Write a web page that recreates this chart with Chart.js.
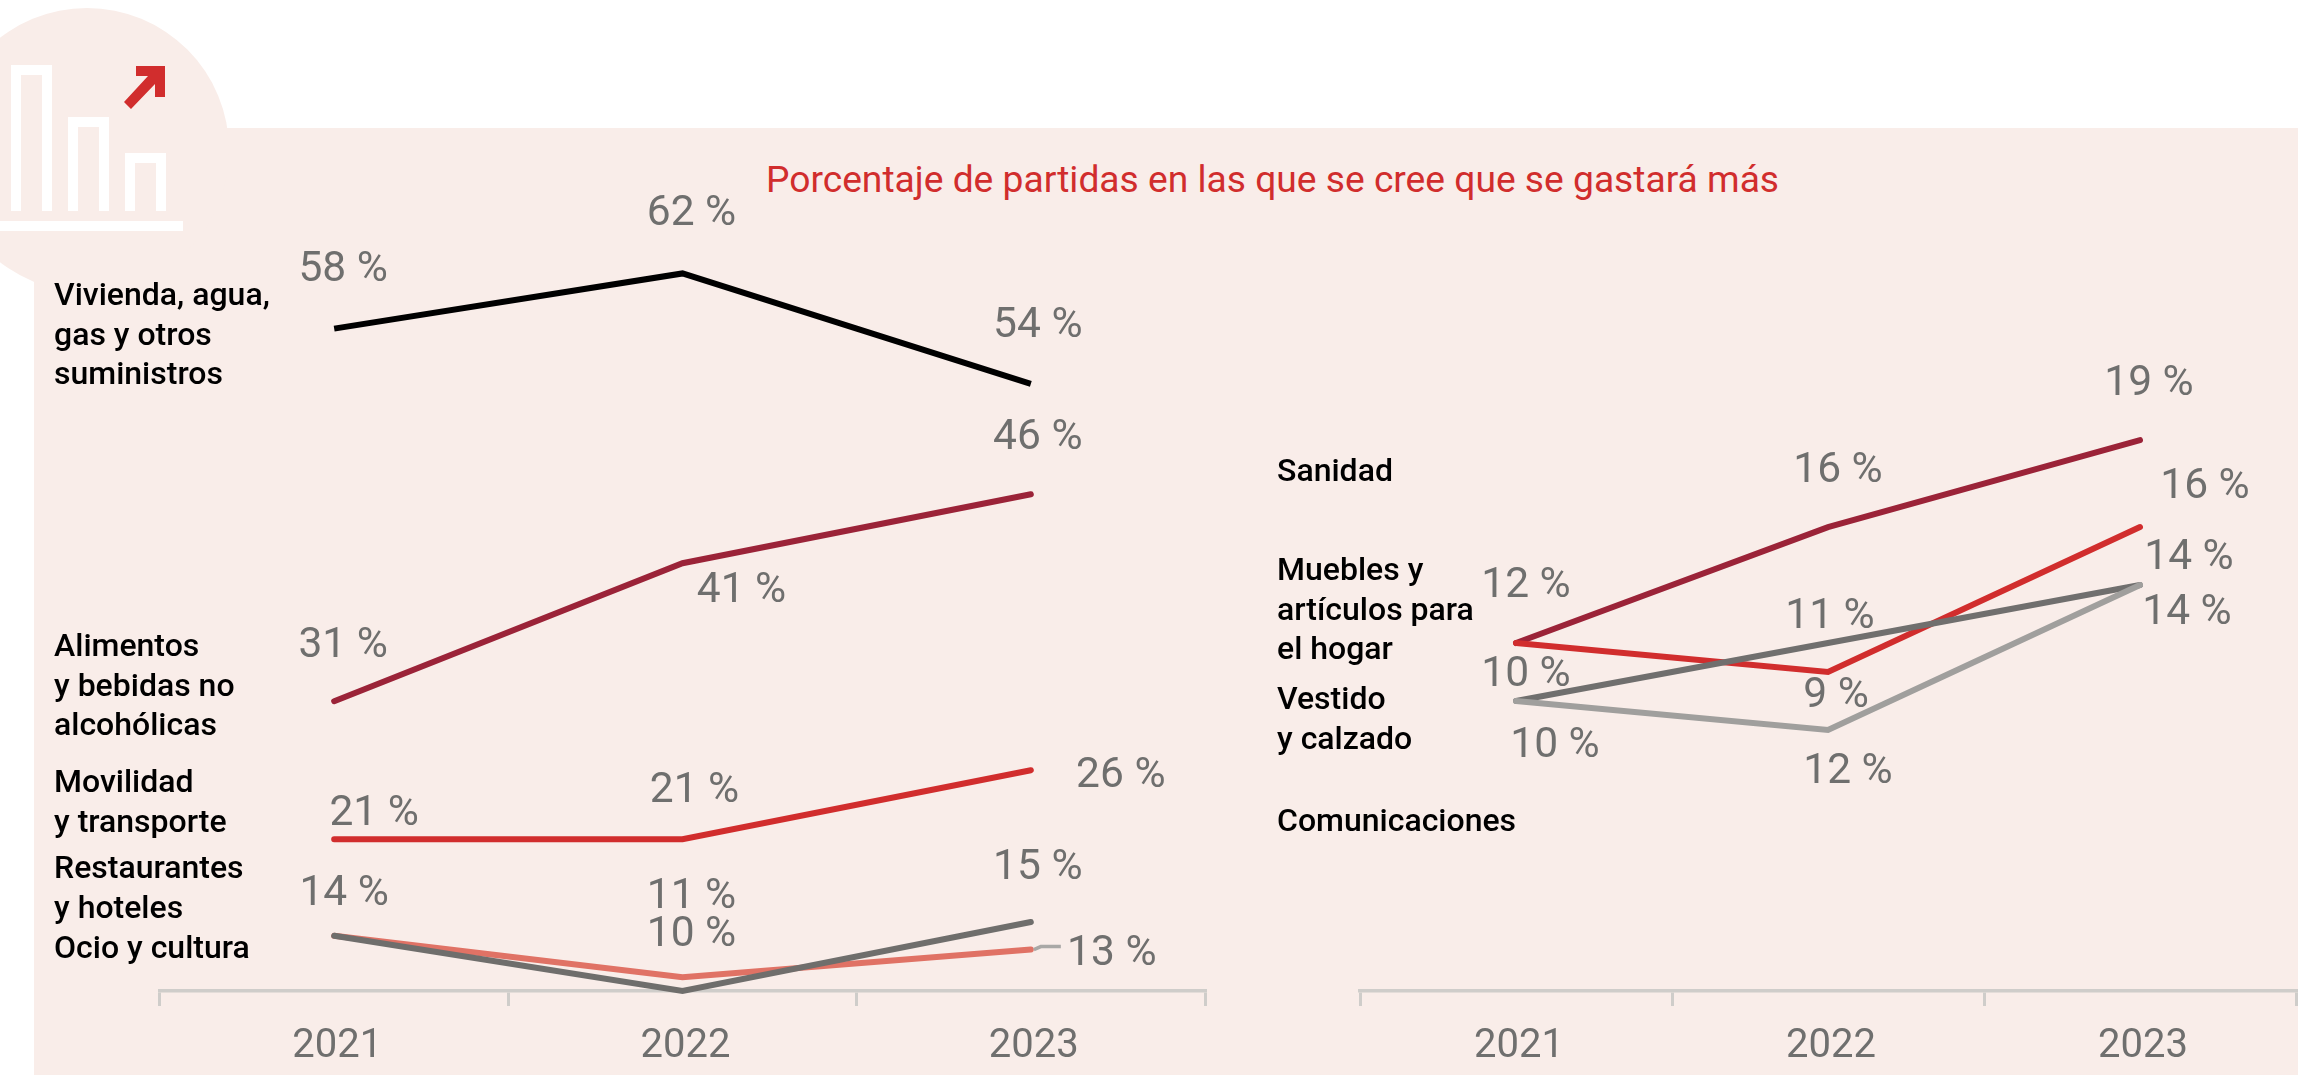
<!DOCTYPE html>
<html lang="es">
<head>
<meta charset="utf-8">
<title>Porcentaje de partidas</title>
<script src="https://cdn.jsdelivr.net/npm/chart.js@4"></script>
<style>
html, body { margin: 0; padding: 0; background: #fff; }
#page { position: relative; width: 2298px; height: 1078px; overflow: hidden; font-family: Roboto, sans-serif; }
#panel { position: absolute; left: 34px; top: 128px; width: 2264px; height: 947px; background: #f9ede9; }
#circle { position: absolute; left: -55px; top: 8px; width: 284px; height: 284px; border-radius: 50%; background: #f9ede9; }
#icon { position: absolute; left: 0; top: 0; }
canvas { position: absolute; left: 0; top: 0; }
#title { position: absolute; left: 766px; top: 156px; font-size: 37.2px; line-height: 46px; color: #d12d2d; white-space: nowrap; }
.name { position: absolute; font-size: 32px; line-height: 39.6px; font-weight: 500; color: #000; white-space: pre; }
</style>
</head>
<body>
<div id="page">
    <div id="panel"></div>
    <div id="circle"></div>
    <svg id="icon" width="240" height="240">
        <path d="M16 211V70H47V211M73 211V122H104V211M130 211V158H161V211" fill="none" stroke="#fff" stroke-width="10"/>
        <rect x="0" y="221" width="183" height="10" fill="#fff"/>
        <path d="M136 66H165V97H155V84L131 109L124 102L148 76H136Z" fill="#d12d2d"/>
    </svg>
    <div id="title">Porcentaje de partidas en las que se cree que se gastará más</div>
    <canvas id="chartLeft" width="2298" height="1078"></canvas>
    <canvas id="chartRight" width="2298" height="1078"></canvas>
</div>
<script>
const years = ['2021', '2022', '2023'];

const vivienda = [58, 62, 54];
const alimentos = [31, 41, 46];
const movilidad = [21, 21, 26];
const restaurantes = [14, 11, 13];
const ocio = [14, 10, 15];

const sanidad = [12, 16, 19];
const muebles = [12, 11, 16];
const vestido = [10, 12, 14];
const comunicaciones = [10, 9, 14];

// series names, first line centre in page px
const namesLeft = [
    [54, 295, 'Vivienda, agua,\ngas y otros\nsuministros'],
    [54, 646, 'Alimentos\ny bebidas no\nalcohólicas'],
    [54, 782, 'Movilidad\ny transporte'],
    [54, 868, 'Restaurantes\ny hoteles'],
    [54, 948, 'Ocio y cultura']
];
const namesRight = [
    [1277, 471, 'Sanidad'],
    [1277, 570, 'Muebles y\nartículos para\nel hogar'],
    [1277, 699, 'Vestido\ny calzado'],
    [1277, 821, 'Comunicaciones']
];

const grey = '#6f6f6e';
const axisColor = '#cfcdca';

const page = document.getElementById('page');
[...namesLeft, ...namesRight].forEach(n => {
    const el = document.createElement('div');
    el.className = 'name';
    el.style.left = n[0] + 'px';
    el.style.top = (n[1] - 19.8) + 'px';
    el.textContent = n[2];
    page.append(el);
});

// value labels sit at an offset from their point, read through the scales
const valueLabels = {
    id: 'valueLabels',
    afterDatasetsDraw(chart) {
        const ctx = chart.ctx;
        ctx.save();
        ctx.font = '42.5px Roboto';
        ctx.fillStyle = grey;
        ctx.textAlign = 'center';
        ctx.textBaseline = 'middle';
        chart.data.datasets.forEach((ds, i) => {
            const pts = chart.getDatasetMeta(i).data;
            ds.data.forEach((v, j) => {
                const off = ds.labelOffsets[j];
                if (ds.leader && j == 2) {
                    ctx.strokeStyle = '#a9a8a6';
                    ctx.lineWidth = 3.5;
                    ctx.beginPath();
                    ctx.moveTo(pts[j].x + 3, pts[j].y);
                    ctx.lineTo(pts[j].x + 10, pts[j].y - 3);
                    ctx.lineTo(pts[j].x + 30, pts[j].y - 3);
                    ctx.stroke();
                }
                // shared points only carry one label
                if (off) ctx.fillText(v + ' %', pts[j].x + off[0], pts[j].y + off[1] + 3);
            });
        });
        ctx.restore();
    }
};

function line(data, color, labelOffsets, extra) {
    return Object.assign({
        data: data,
        borderColor: color,
        borderWidth: 6,
        borderCapStyle: 'round',
        borderJoinStyle: 'miter',
        pointRadius: 0,
        tension: 0,
        clip: false,
        labelOffsets: labelOffsets
    }, extra);
}

function createChart(id, datasets, yMin, yMax, left, right) {
    return new Chart(document.getElementById(id), {
        type: 'line',
        data: { labels: years, datasets: datasets },
        options: {
            responsive: false,
            animation: false,
            layout: { padding: { left: left, right: right, top: 200, bottom: 0 } },
            plugins: { legend: { display: false }, tooltip: { enabled: false } },
            scales: {
                y: { display: false, min: yMin, max: yMax },
                x: {
                    offset: true,
                    afterFit(scale) { scale.height = 87; },
                    border: { color: axisColor, width: 3.5 },
                    grid: { offset: true, drawOnChartArea: false, color: axisColor, lineWidth: 3, tickLength: 15 },
                    ticks: { color: grey, font: { family: 'Roboto', size: 40 }, padding: 17, labelOffset: 3, maxRotation: 0 }
                }
            }
        },
        plugins: [valueLabels]
    });
}

// the first dataset is painted last, so it ends up on top
createChart('chartLeft', [
    line(vivienda, '#000000', [[9, -61], [9, -62], [7, -60]], { borderCapStyle: 'butt' }),
    line(alimentos, '#9b2338', [[9, -58], [59, 25], [7, -59]]),
    line(movilidad, '#d12d2d', [[40, -28], [12, -51], [90, 3]]),
    line(ocio, '#6f6e6c', [null, [9, -59], [7, -57]]),
    line(restaurantes, '#e07265', [[10, -44], [9, -83], [81, 2]], { leader: true })
], 10, 67.32, 160, 1093);

createChart('chartRight', [
    line(comunicaciones, '#a09f9d', [[39, 42], [8, -37], [47, 25]]),
    line(vestido, '#706f6e', [[10, -29], [20, 126], [49, -30]]),
    line(muebles, '#d12d2d', [null, [2, -58], [65, -43]]),
    line(sanidad, '#9b2338', [[10, -60], [10, -59], [9, -59]])
], 0, 27.28, 1360, 2);
</script>
</body>
</html>
